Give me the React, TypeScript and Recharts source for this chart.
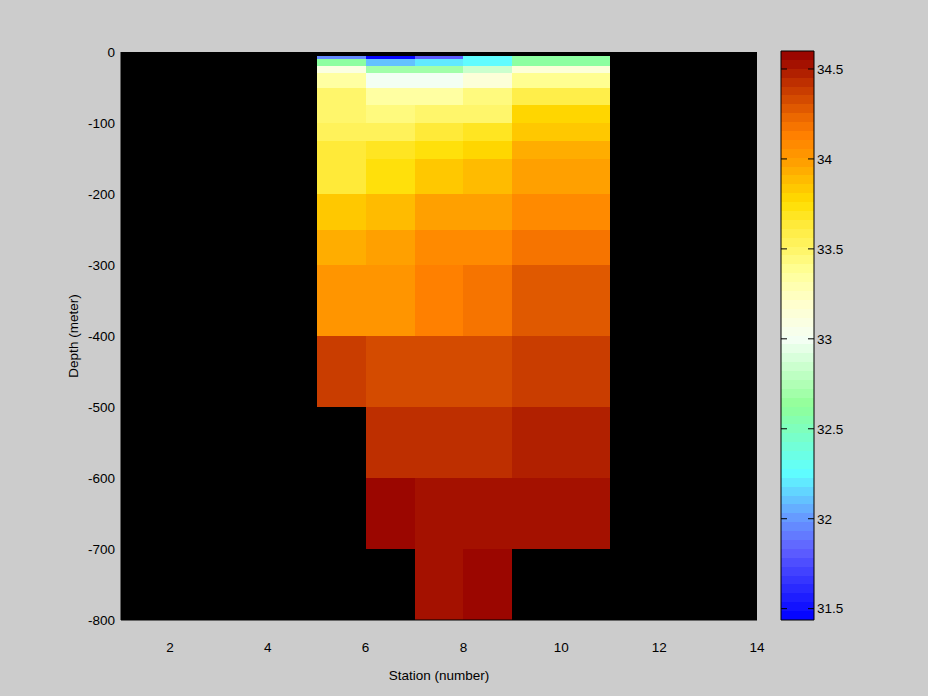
import React from 'react';
import { ComposedChart, XAxis, YAxis, ReferenceArea } from 'recharts';

// Grid edges of the section (pcolor-style cells)
const stationEdges = [5, 6, 7, 8, 9, 11];
const depthEdges = [-5, -10, -20, -30, -50, -75, -100, -125, -150, -200, -250, -300, -400, -500, -600, -700, -800];

// Salinity per station column, top to bottom (null = no data)
const salinityStation5 = [31.97, 32.62, 33.08, 33.33, 33.5, 33.5, 33.56, 33.64, 33.65, 33.81, 33.95, 34.05, 34.37, null, null, null];
const salinityStation6 = [31.45, 32.12, 32.72, 33.0, 33.35, 33.43, 33.56, 33.7, 33.73, 33.9, 33.98, 34.05, 34.32, 34.43, 34.58, null];
const salinityStation7 = [31.8, 32.18, 32.72, 33.0, 33.35, 33.5, 33.64, 33.73, 33.85, 33.98, 34.07, 34.13, 34.32, 34.43, 34.53, 34.53];
const salinityStation8 = [32.27, 32.27, 32.85, 33.12, 33.43, 33.5, 33.67, 33.76, 33.89, 33.98, 34.07, 34.19, 34.32, 34.43, 34.53, 34.58];
const salinityStation9 = [32.62, 32.62, 33.15, 33.4, 33.6, 33.76, 33.85, 33.93, 33.98, 34.07, 34.19, 34.26, 34.37, 34.48, 34.53, null];
const salinityColumns = [salinityStation5, salinityStation6, salinityStation7, salinityStation8, salinityStation9];

const xTicks = [2, 4, 6, 8, 10, 12, 14];
const yTicks = [-800, -700, -600, -500, -400, -300, -200, -100, 0];
const colorbarTicks = [31.5, 32, 32.5, 33, 33.5, 34, 34.5];

const cMin = 31.437;
const cMax = 34.6;
const nLevels = 64;

const colorStops: [number, number[]][] = [
  [31.437, [0, 0, 255]],
  [31.83, [96, 96, 255]],
  [32.0, [102, 153, 255]],
  [32.26, [95, 255, 255]],
  [32.63, [144, 255, 152]],
  [33.0, [245, 255, 245]],
  [33.2, [255, 255, 204]],
  [33.37, [255, 255, 153]],
  [33.5, [255, 245, 102]],
  [33.63, [255, 235, 60]],
  [33.76, [255, 221, 0]],
  [33.98, [255, 160, 0]],
  [34.13, [255, 128, 0]],
  [34.23, [236, 104, 0]],
  [34.33, [212, 74, 0]],
  [34.43, [189, 46, 0]],
  [34.53, [163, 16, 0]],
  [34.6, [150, 0, 0]],
];

function rgb(c: number[]) {
  return `rgb(${c.map((x) => Math.round(x)).join(',')})`;
}
function interp(v: number): string {
  if (v <= colorStops[0][0]) return rgb(colorStops[0][1]);
  for (let i = 1; i < colorStops.length; i++) {
    const [v1, c1] = colorStops[i];
    const [v0, c0] = colorStops[i - 1];
    if (v <= v1) {
      const t = (v - v0) / (v1 - v0);
      return rgb(c0.map((c, k) => c + (c1[k] - c) * t));
    }
  }
  return rgb(colorStops[colorStops.length - 1][1]);
}
function levelIndex(v: number) {
  const idx = Math.floor(((v - cMin) / (cMax - cMin)) * nLevels);
  return Math.max(0, Math.min(nLevels - 1, idx));
}
function levelColor(idx: number) {
  const step = (cMax - cMin) / nLevels;
  return interp(cMin + (idx + 0.5) * step);
}

const cells: { x1: number; x2: number; y1: number; y2: number; v: number }[] = [];
salinityColumns.forEach((col, ci) => {
  col.forEach((v, ri) => {
    if (v == null) return;
    cells.push({ x1: stationEdges[ci], x2: stationEdges[ci + 1], y1: depthEdges[ri + 1], y2: depthEdges[ri], v });
  });
});

const levels = Array.from({ length: nLevels }, (_, i) => ({
  lo: cMin + (i * (cMax - cMin)) / nLevels,
  hi: cMin + ((i + 1) * (cMax - cMin)) / nLevels,
  color: levelColor(i),
}));

const colorbarData = [
  { x: 0, v: cMin },
  { x: 1, v: cMax },
];

const font = { fontSize: 13.5, fontFamily: 'Liberation Sans, Arial, sans-serif', fill: '#000' };

const BAR_WIDTH = 33;
const TICK_LEN = 6;

// Inward tick marks on both edges of the colour bar; x is the bar's right edge
function ColorbarTick(props: any) {
  const { x, y } = props;
  return (
    <g>
      <line x1={x - TICK_LEN} x2={x} y1={y} y2={y} stroke="#000" strokeWidth={1} />
      <line x1={x - BAR_WIDTH} x2={x - BAR_WIDTH + TICK_LEN} y1={y} y2={y} stroke="#000" strokeWidth={1} />
    </g>
  );
}

export default function App() {
  return (
    <div style={{ position: 'absolute', left: 0, top: 0, width: 928, height: 696, background: '#cccccc', overflow: 'hidden' }}>
      <div style={{ position: 'absolute', left: 0, top: 0 }}>
        <ComposedChart width={928} height={696} margin={{ top: 52, right: 171, bottom: 36, left: 25 }}>
          <XAxis
            type="number"
            dataKey="x"
            domain={[1, 14]}
            ticks={xTicks}
            interval={0}
            allowDataOverflow
            height={40}
            tickSize={0}
            tickMargin={22}
            tickLine={false}
            axisLine={{ stroke: '#000' }}
            tick={font}
            label={{ value: 'Station (number)', position: 'bottom', offset: 10, ...font }}
          />
          <YAxis
            type="number"
            dataKey="y"
            domain={[-800, 0]}
            ticks={yTicks}
            interval={0}
            allowDataOverflow
            width={96}
            tickSize={0}
            tickMargin={6}
            tickLine={false}
            axisLine={{ stroke: '#000' }}
            tick={font}
            label={{ value: 'Depth (meter)', angle: -90, position: 'center', ...font }}
          />
          <ReferenceArea x1={1} x2={14} y1={-800} y2={0} fill="#000" fillOpacity={1} stroke="none" />
          {cells.map((c, i) => (
            <ReferenceArea
              key={i}
              x1={c.x1}
              x2={c.x2}
              y1={c.y1}
              y2={c.y2}
              fill={levelColor(levelIndex(c.v))}
              fillOpacity={1}
              stroke="none"
              shapeRendering="crispEdges"
            />
          ))}
        </ComposedChart>
      </div>
      {/* colour bar swatches and labels */}
      <div style={{ position: 'absolute', left: 0, top: 0 }}>
        <ComposedChart width={928} height={696} data={colorbarData} margin={{ top: 51, right: 74, bottom: 76, left: 771 }}>
          <XAxis type="number" dataKey="x" domain={[0, 1]} hide />
          <YAxis
            yAxisId="l"
            orientation="left"
            type="number"
            dataKey="v"
            domain={[cMin, cMax]}
            ticks={colorbarTicks}
            interval={0}
            allowDataOverflow
            width={10}
            tick={false}
            tickLine={false}
            axisLine={false}
          />
          <YAxis
            yAxisId="r"
            orientation="right"
            type="number"
            dataKey="v"
            domain={[cMin, cMax]}
            ticks={colorbarTicks}
            interval={0}
            allowDataOverflow
            width={40}
            tickSize={0}
            tickMargin={3}
            tickLine={false}
            axisLine={false}
            tick={{ ...font, textAnchor: 'start' }}
          />
          {levels.map((l, i) => (
            <ReferenceArea
              key={i}
              yAxisId="r"
              x1={0}
              x2={1}
              y1={l.lo}
              y2={l.hi}
              fill={l.color}
              fillOpacity={1}
              stroke="none"
              shapeRendering="crispEdges"
            />
          ))}
          <ReferenceArea yAxisId="r" x1={0} x2={1} y1={cMin} y2={cMax} fill="none" stroke="#000" strokeWidth={1} />
        </ComposedChart>
      </div>
      {/* colour bar inward tick marks, drawn on top */}
      <div style={{ position: 'absolute', left: 0, top: 0 }}>
        <ComposedChart width={928} height={696} data={colorbarData} margin={{ top: 51, right: 74, bottom: 76, left: 771 }}>
          <XAxis type="number" dataKey="x" domain={[0, 1]} hide />
          <YAxis
            yAxisId="l"
            orientation="left"
            type="number"
            dataKey="v"
            domain={[cMin, cMax]}
            ticks={colorbarTicks}
            interval={0}
            allowDataOverflow
            width={10}
            tick={false}
            tickLine={false}
            axisLine={false}
          />
          <YAxis
            yAxisId="r"
            orientation="right"
            type="number"
            dataKey="v"
            domain={[cMin, cMax]}
            ticks={colorbarTicks}
            interval={0}
            allowDataOverflow
            width={40}
            tickSize={0}
            tickMargin={0}
            tickLine={false}
            axisLine={false}
            tick={<ColorbarTick />}
          />
        </ComposedChart>
      </div>
    </div>
  );
}
